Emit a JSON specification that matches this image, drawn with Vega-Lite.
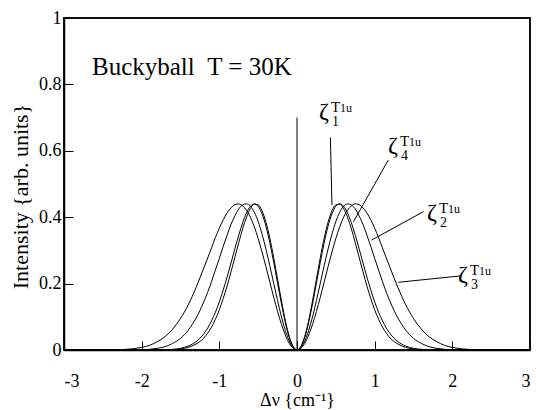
{
  "$schema": "https://vega.github.io/schema/vega-lite/v6.json",
  "width": 466,
  "height": 332,
  "autosize": {"type": "none"},
  "padding": {"left": 64, "top": 18, "right": 6, "bottom": 60},
  "background": "white",
  "config": {
    "view": {"stroke": "black", "strokeWidth": 1.5},
    "axis": {
      "grid": false,
      "domainColor": "black",
      "domainWidth": 1.5,
      "tickColor": "black",
      "tickWidth": 1,
      "labelColor": "black",
      "labelFont": "Liberation Serif",
      "labelFontSize": 18,
      "titleColor": "black",
      "titleFont": "Liberation Serif",
      "titleFontWeight": "normal"
    }
  },
  "datasets": {
    "curves": [
      {"x": -3.0, "z1": 0, "z4": 0, "z2": 0, "z3": 0},
      {"x": -2.6, "z1": 0, "z4": 0, "z2": 0, "z3": 0},
      {"x": -2.4, "z1": 0, "z4": 0, "z2": 0, "z3": 0},
      {"x": -2.3, "z1": 0, "z4": 0, "z2": 0, "z3": 0.001},
      {"x": -2.2, "z1": 0, "z4": 0, "z2": 0, "z3": 0.002},
      {"x": -2.1, "z1": 0, "z4": 0, "z2": 0, "z3": 0.004},
      {"x": -2.0, "z1": 0, "z4": 0, "z2": 0.001, "z3": 0.008},
      {"x": -1.9, "z1": 0, "z4": 0, "z2": 0.002, "z3": 0.014},
      {"x": -1.8, "z1": 0, "z4": 0, "z2": 0.005, "z3": 0.025},
      {"x": -1.7, "z1": 0, "z4": 0.001, "z2": 0.010, "z3": 0.040},
      {"x": -1.6, "z1": 0.001, "z4": 0.002, "z2": 0.020, "z3": 0.063},
      {"x": -1.5, "z1": 0.003, "z4": 0.005, "z2": 0.035, "z3": 0.095},
      {"x": -1.4, "z1": 0.008, "z4": 0.012, "z2": 0.060, "z3": 0.136},
      {"x": -1.3, "z1": 0.018, "z4": 0.025, "z2": 0.096, "z3": 0.188},
      {"x": -1.2, "z1": 0.036, "z4": 0.049, "z2": 0.145, "z3": 0.247},
      {"x": -1.15, "z1": 0.051, "z4": 0.066, "z2": 0.174, "z3": 0.277},
      {"x": -1.1, "z1": 0.069, "z4": 0.088, "z2": 0.207, "z3": 0.308},
      {"x": -1.05, "z1": 0.093, "z4": 0.114, "z2": 0.241, "z3": 0.339},
      {"x": -1.0, "z1": 0.121, "z4": 0.145, "z2": 0.276, "z3": 0.367},
      {"x": -0.95, "z1": 0.155, "z4": 0.181, "z2": 0.312, "z3": 0.392},
      {"x": -0.9, "z1": 0.193, "z4": 0.220, "z2": 0.346, "z3": 0.413},
      {"x": -0.85, "z1": 0.235, "z4": 0.262, "z2": 0.378, "z3": 0.428},
      {"x": -0.8, "z1": 0.279, "z4": 0.305, "z2": 0.404, "z3": 0.438},
      {"x": -0.75, "z1": 0.323, "z4": 0.346, "z2": 0.425, "z3": 0.440},
      {"x": -0.7, "z1": 0.365, "z4": 0.383, "z2": 0.437, "z3": 0.434},
      {"x": -0.65, "z1": 0.400, "z4": 0.413, "z2": 0.440, "z3": 0.421},
      {"x": -0.6, "z1": 0.426, "z4": 0.433, "z2": 0.433, "z3": 0.400},
      {"x": -0.55, "z1": 0.439, "z4": 0.440, "z2": 0.415, "z3": 0.371},
      {"x": -0.5, "z1": 0.437, "z4": 0.433, "z2": 0.387, "z3": 0.336},
      {"x": -0.45, "z1": 0.419, "z4": 0.410, "z2": 0.349, "z3": 0.295},
      {"x": -0.4, "z1": 0.385, "z4": 0.373, "z2": 0.304, "z3": 0.251},
      {"x": -0.35, "z1": 0.337, "z4": 0.323, "z2": 0.254, "z3": 0.205},
      {"x": -0.3, "z1": 0.278, "z4": 0.264, "z2": 0.201, "z3": 0.159},
      {"x": -0.25, "z1": 0.213, "z4": 0.201, "z2": 0.149, "z3": 0.116},
      {"x": -0.2, "z1": 0.148, "z4": 0.139, "z2": 0.100, "z3": 0.077},
      {"x": -0.15, "z1": 0.088, "z4": 0.083, "z2": 0.059, "z3": 0.045},
      {"x": -0.1, "z1": 0.041, "z4": 0.038, "z2": 0.027, "z3": 0.020},
      {"x": -0.05, "z1": 0.011, "z4": 0.010, "z2": 0.007, "z3": 0.005},
      {"x": 0, "z1": 0, "z4": 0, "z2": 0, "z3": 0},
      {"x": 0.05, "z1": 0.011, "z4": 0.010, "z2": 0.007, "z3": 0.005},
      {"x": 0.1, "z1": 0.041, "z4": 0.038, "z2": 0.027, "z3": 0.020},
      {"x": 0.15, "z1": 0.088, "z4": 0.083, "z2": 0.059, "z3": 0.045},
      {"x": 0.2, "z1": 0.148, "z4": 0.139, "z2": 0.100, "z3": 0.077},
      {"x": 0.25, "z1": 0.213, "z4": 0.201, "z2": 0.149, "z3": 0.116},
      {"x": 0.3, "z1": 0.278, "z4": 0.264, "z2": 0.201, "z3": 0.159},
      {"x": 0.35, "z1": 0.337, "z4": 0.323, "z2": 0.254, "z3": 0.205},
      {"x": 0.4, "z1": 0.385, "z4": 0.373, "z2": 0.304, "z3": 0.251},
      {"x": 0.45, "z1": 0.419, "z4": 0.410, "z2": 0.349, "z3": 0.295},
      {"x": 0.5, "z1": 0.437, "z4": 0.433, "z2": 0.387, "z3": 0.336},
      {"x": 0.55, "z1": 0.439, "z4": 0.440, "z2": 0.415, "z3": 0.371},
      {"x": 0.6, "z1": 0.426, "z4": 0.433, "z2": 0.433, "z3": 0.400},
      {"x": 0.65, "z1": 0.400, "z4": 0.413, "z2": 0.440, "z3": 0.421},
      {"x": 0.7, "z1": 0.365, "z4": 0.383, "z2": 0.437, "z3": 0.434},
      {"x": 0.75, "z1": 0.323, "z4": 0.346, "z2": 0.425, "z3": 0.440},
      {"x": 0.8, "z1": 0.279, "z4": 0.305, "z2": 0.404, "z3": 0.438},
      {"x": 0.85, "z1": 0.235, "z4": 0.262, "z2": 0.378, "z3": 0.428},
      {"x": 0.9, "z1": 0.193, "z4": 0.220, "z2": 0.346, "z3": 0.413},
      {"x": 0.95, "z1": 0.155, "z4": 0.181, "z2": 0.312, "z3": 0.392},
      {"x": 1.0, "z1": 0.121, "z4": 0.145, "z2": 0.276, "z3": 0.367},
      {"x": 1.05, "z1": 0.093, "z4": 0.114, "z2": 0.241, "z3": 0.339},
      {"x": 1.1, "z1": 0.069, "z4": 0.088, "z2": 0.207, "z3": 0.308},
      {"x": 1.15, "z1": 0.051, "z4": 0.066, "z2": 0.174, "z3": 0.277},
      {"x": 1.2, "z1": 0.036, "z4": 0.049, "z2": 0.145, "z3": 0.247},
      {"x": 1.3, "z1": 0.018, "z4": 0.025, "z2": 0.096, "z3": 0.188},
      {"x": 1.4, "z1": 0.008, "z4": 0.012, "z2": 0.060, "z3": 0.136},
      {"x": 1.5, "z1": 0.003, "z4": 0.005, "z2": 0.035, "z3": 0.095},
      {"x": 1.6, "z1": 0.001, "z4": 0.002, "z2": 0.020, "z3": 0.063},
      {"x": 1.7, "z1": 0, "z4": 0.001, "z2": 0.010, "z3": 0.040},
      {"x": 1.8, "z1": 0, "z4": 0, "z2": 0.005, "z3": 0.025},
      {"x": 1.9, "z1": 0, "z4": 0, "z2": 0.002, "z3": 0.014},
      {"x": 2.0, "z1": 0, "z4": 0, "z2": 0.001, "z3": 0.008},
      {"x": 2.1, "z1": 0, "z4": 0, "z2": 0, "z3": 0.004},
      {"x": 2.2, "z1": 0, "z4": 0, "z2": 0, "z3": 0.002},
      {"x": 2.3, "z1": 0, "z4": 0, "z2": 0, "z3": 0.001},
      {"x": 2.4, "z1": 0, "z4": 0, "z2": 0, "z3": 0},
      {"x": 2.6, "z1": 0, "z4": 0, "z2": 0, "z3": 0},
      {"x": 3.0, "z1": 0, "z4": 0, "z2": 0, "z3": 0}
    ],
    "frame": [
      {"x": -3, "x2": 3, "y": 0, "y2": 1}
    ],
    "rules": [
      {"x": 0, "y": 0, "x2": 0, "y2": 0.7},
      {"x": 0.43, "y": 0.64, "x2": 0.45, "y2": 0.437},
      {"x": 1.175, "y": 0.572, "x2": 0.726, "y2": 0.386},
      {"x": 1.63, "y": 0.417, "x2": 0.96, "y2": 0.331},
      {"x": 2.10, "y": 0.223, "x2": 1.305, "y2": 0.204}
    ],
    "zetas": [
      {"x": 0.283, "y": 0.696, "n": "1"},
      {"x": 1.172, "y": 0.593, "n": "4"},
      {"x": 1.674, "y": 0.392, "n": "2"},
      {"x": 2.073, "y": 0.205, "n": "3"}
    ],
    "title": [
      {"x": -2.64, "y": 0.828, "t": "Buckyball\u00a0\u00a0T = 30K"}
    ]
  },
  "layer": [
    {
      "data": {"name": "curves"},
      "transform": [{"fold": ["z1", "z2", "z3", "z4"], "as": ["series", "val"]}],
      "mark": {"type": "line", "color": "black", "strokeWidth": 1, "interpolate": "monotone"},
      "encoding": {
        "x": {
          "field": "x", "type": "quantitative",
          "scale": {"domain": [-3, 3], "nice": false, "zero": false},
          "axis": {
            "orient": "bottom",
            "values": [-3, -2, -1, 0, 1, 2, 3],
            "labelExpr": "datum.value < 0 ? '-' + abs(datum.value) : '' + datum.value",
            "tickSize": -9,
            "labelPadding": 31,
            "title": "Δν {cm⁻¹}",
            "titleFontSize": 18,
            "titleBaseline": "alphabetic",
            "titleY": 55
          }
        },
        "y": {
          "field": "val", "type": "quantitative",
          "scale": {"domain": [0, 1], "nice": false},
          "axis": {
            "orient": "left",
            "values": [0, 0.2, 0.4, 0.6, 0.8, 1],
            "labelExpr": "'' + datum.value",
            "tickSize": -9,
            "labelPadding": 12,
            "title": "Intensity {arb. units}",
            "titleFontSize": 22,
            "titleBaseline": "alphabetic",
            "titleX": -37,
            "titleY": 178
          }
        },
        "detail": {"field": "series"}
      }
    },
    {
      "data": {"name": "frame"},
      "mark": {"type": "rect", "fill": null, "filled": false, "stroke": "black", "strokeWidth": 1.5},
      "encoding": {
        "x": {"field": "x", "type": "quantitative"},
        "x2": {"field": "x2"},
        "y": {"field": "y", "type": "quantitative"},
        "y2": {"field": "y2"}
      }
    },
    {
      "data": {"name": "rules"},
      "mark": {"type": "rule", "color": "black", "strokeWidth": 1},
      "encoding": {
        "x": {"field": "x", "type": "quantitative"},
        "y": {"field": "y", "type": "quantitative"},
        "x2": {"field": "x2"},
        "y2": {"field": "y2"}
      }
    },
    {
      "data": {"name": "title"},
      "mark": {"type": "text", "align": "left", "baseline": "alphabetic", "fontSize": 25, "font": "Liberation Serif", "color": "black"},
      "encoding": {
        "x": {"field": "x", "type": "quantitative"},
        "y": {"field": "y", "type": "quantitative"},
        "text": {"field": "t"}
      }
    },
    {
      "data": {"name": "zetas"},
      "mark": {"type": "text", "text": "ζ", "align": "left", "baseline": "alphabetic", "fontSize": 24, "font": "Liberation Serif", "color": "black"},
      "encoding": {
        "x": {"field": "x", "type": "quantitative"},
        "y": {"field": "y", "type": "quantitative"}
      }
    },
    {
      "data": {"name": "zetas"},
      "mark": {"type": "text", "align": "left", "baseline": "alphabetic", "fontSize": 14, "dx": 13, "dy": 7, "font": "Liberation Serif", "color": "black"},
      "encoding": {
        "x": {"field": "x", "type": "quantitative"},
        "y": {"field": "y", "type": "quantitative"},
        "text": {"field": "n"}
      }
    },
    {
      "data": {"name": "zetas"},
      "mark": {"type": "text", "text": "T", "align": "left", "baseline": "alphabetic", "fontSize": 15, "dx": 12, "dy": -7, "font": "Liberation Serif", "color": "black"},
      "encoding": {
        "x": {"field": "x", "type": "quantitative"},
        "y": {"field": "y", "type": "quantitative"}
      }
    },
    {
      "data": {"name": "zetas"},
      "mark": {"type": "text", "text": "1u", "align": "left", "baseline": "alphabetic", "fontSize": 12, "dx": 21, "dy": -7, "font": "Liberation Serif", "color": "black"},
      "encoding": {
        "x": {"field": "x", "type": "quantitative"},
        "y": {"field": "y", "type": "quantitative"}
      }
    }
  ]
}
